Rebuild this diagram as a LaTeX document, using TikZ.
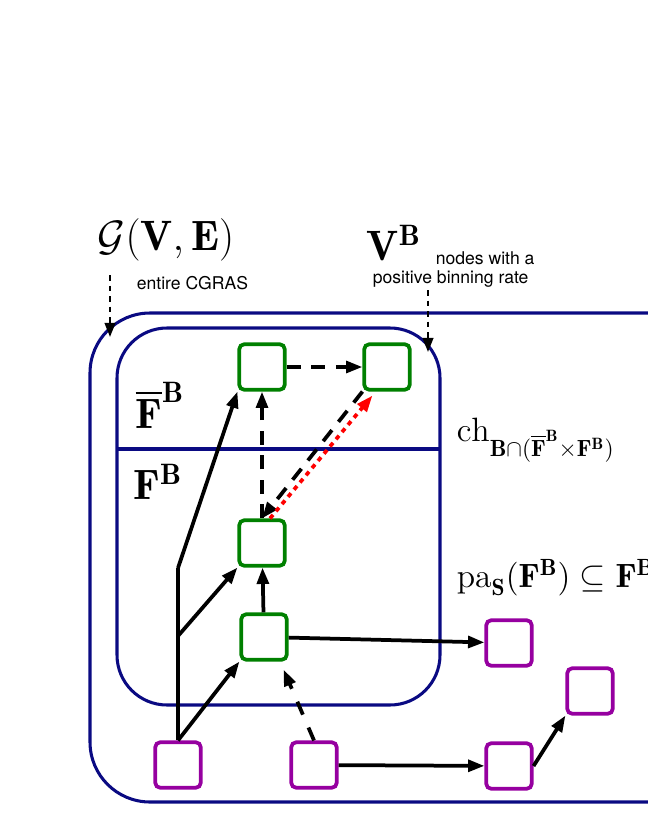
\documentclass[tikz,border=0pt]{standalone}
\usepackage{fontspec}
\setsansfont{TeX Gyre Heros}
\usepackage{amsmath,amssymb}
\usetikzlibrary{positioning, arrows.meta, calc}

\definecolor{boxblue}{RGB}{10,10,130}
\definecolor{nodegreen}{RGB}{0,128,0}
\definecolor{nodepurple}{RGB}{150,0,160}

\begin{document}
\begin{tikzpicture}[x=0.03cm, y=-0.03cm, >={Triangle[length=14pt,width=10pt]}, line width=3.2pt]

  % --- ESTILOS ---
  \tikzstyle{fnode}=[draw=nodegreen, rounded corners=4pt, minimum size=1.36cm, inner sep=0pt]
  \tikzstyle{onode}=[draw=nodepurple, rounded corners=4pt, minimum size=1.36cm, inner sep=0pt]
  \tikzstyle{region}=[draw=boxblue, line width=2.6pt]
  \tikzstyle{hint}=[line width=2pt, dash pattern=on 5pt off 4pt, -{Triangle[length=12pt,width=9pt]}]
  \tikzstyle{small}=[font=\sffamily\fontsize{15}{17}\selectfont, inner sep=0pt]
  \tikzstyle{big}=[font=\LARGE, scale=2.1]

  \useasboundingbox (0,0) rectangle (648,838);
  \clip (0,0) rectangle (648,838);

  % --- REGIÕES ---
  \draw[region, rounded corners=1.8cm] (90,313) rectangle (720,802);
  \draw[region, rounded corners=1.5cm] (117,328) rectangle (440,705);
  \draw[region] (117,449) -- (440,449);

  % --- NÓS F ---
  \node[fnode] (f1) at (262,367) {};
  \node[fnode] (f2) at (387,367) {};
  \node[fnode] (f3) at (262,543) {};
  \node[fnode] (f4) at (264,637) {};

  % --- NÓS FORA ---
  \node[onode] (o1) at (178,765) {};
  \node[onode] (o2) at (314,765) {};
  \node[onode] (o3) at (509,643) {};
  \node[onode] (o4) at (509,766) {};
  \node[onode] (o5) at (590,691) {};

  % pontos de bifurcação
  \coordinate (b1) at (178,568);
  \coordinate (b2) at (178,636);

  % --- RÓTULOS ---
  \node[big] (glabel) at (166,240) {$\mathcal{G}(\mathbf{V},\mathbf{E})$};
  \node[small, anchor=west] (gnote) at (135,283) {entire CGRAS};
  \node[big] (vlabel) at (394,243) {$\mathbf{V}^{\mathbf{B}}$};
  \node[small, anchor=west] (vnote1) at (434,258) {nodes with a};
  \node[small, anchor=west] (vnote2) at (371,279) {positive binning rate};
  \node[big] (fbar) at (160,405) {$\overline{\mathbf{F}}^{\mathbf{B}}$};
  \node[big] (fb) at (158,482) {$\mathbf{F}^{\mathbf{B}}$};
  \node[font=\Large, scale=2, anchor=west, inner sep=0pt] (chlabel) at (453,440) {$\mathrm{ch}_{\mathbf{B}\cap(\overline{\mathbf{F}}^{\mathbf{B}}\times\mathbf{F}^{\mathbf{B}})}$};
  \node[font=\Large, scale=2, anchor=west, inner sep=0pt] (paslabel) at (453,578) {$\mathrm{pa}_{\mathbf{S}}(\mathbf{F}^{\mathbf{B}})\subseteq\mathbf{F}^{\mathbf{B}}$};

  \coordinate (gtip) at (110,337);
  \coordinate (vtip) at (428,352);
  \draw[hint] (110,275) -- (gtip);
  \draw[hint] (428,290) -- (vtip);

  % --- ARESTAS ---
  \draw (o1.north) -- (b1);
  \draw[->] (b1) -- (f1.south west);
  \draw[->] (b2) -- (f3.south west);
  \draw[->] (o1.north) -- (f4.south west);
  \draw[->] (f4) -- (f3);
  \draw[->] (f4) -- (o3);
  \draw[->] (o2) -- (o4);
  \draw[->] (o4.east) -- (o5.south west);

  % arestas tracejadas
  \draw[->, dash pattern=on 12pt off 9pt] (f1) -- (f2);
  \draw[->, dash pattern=on 12pt off 9pt] (f3) -- (f1);
  \draw[->, dash pattern=on 12pt off 9pt] (f2.south west) -- (f3.north);
  \draw[->, dash pattern=on 12pt off 12pt] (o2.north) -- ($(f4.south east)+(-5,8)$);
  \draw[->, red, dash pattern=on 4pt off 4pt] ($(f3.north)+(8,0)$) -- ($(f2.south west)+(10,4)$);

\end{tikzpicture}
\end{document}
